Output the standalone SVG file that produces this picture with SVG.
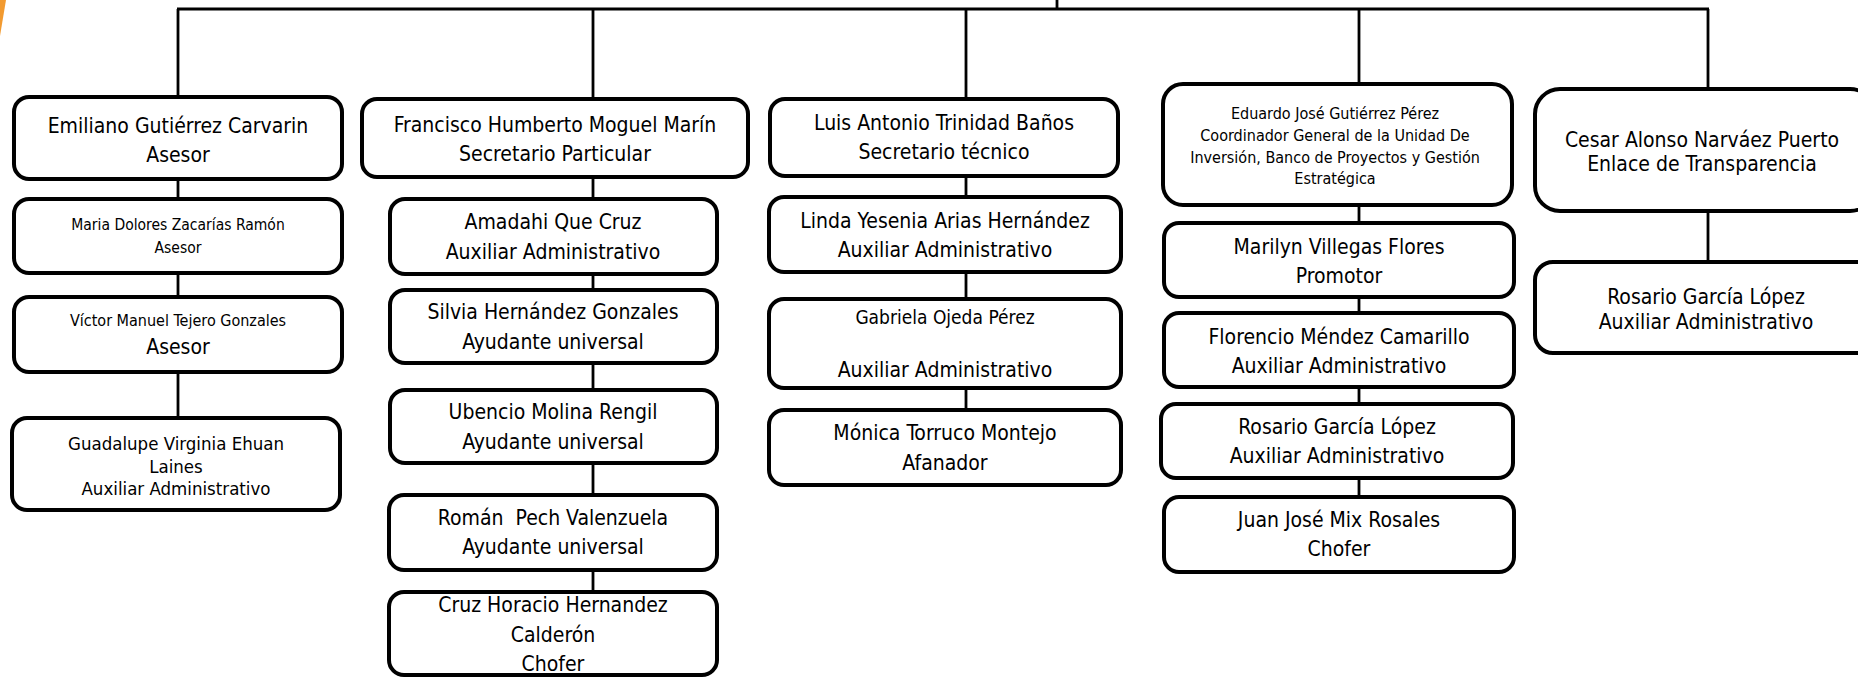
<svg xmlns="http://www.w3.org/2000/svg" width="1858" height="677" viewBox="0 0 1858 677">
<style>
.box{fill:#fff;stroke:#000;stroke-width:4}
.ln{stroke:#000;stroke-width:2.8;fill:none}
text{font-family:'DejaVu Sans Condensed','DejaVu Sans',sans-serif;font-stretch:condensed;fill:#000;text-anchor:middle}
.m{font-size:21px}
.g{font-size:18.5px}
.s{font-size:15.5px}
.v{font-size:16px}
.e{font-size:16px}
.gb{font-size:19px}
</style>
<rect width="1858" height="677" fill="#fff"/>
<polygon points="0,0 6,0 0,36" fill="#F29A30"/>
<g id="connectors">
<line class="ln" x1="1057" y1="0" x2="1057" y2="9"/>
<line class="ln" x1="177" y1="9" x2="1709" y2="9"/>
<line class="ln" x1="178" y1="9" x2="178" y2="97"/>
<line class="ln" x1="178" y1="179" x2="178" y2="199"/>
<line class="ln" x1="178" y1="273" x2="178" y2="297"/>
<line class="ln" x1="178" y1="372" x2="178" y2="418"/>
<line class="ln" x1="593" y1="9" x2="593" y2="99"/>
<line class="ln" x1="593" y1="177" x2="593" y2="199"/>
<line class="ln" x1="593" y1="274" x2="593" y2="290"/>
<line class="ln" x1="593" y1="363" x2="593" y2="390"/>
<line class="ln" x1="593" y1="463" x2="593" y2="495"/>
<line class="ln" x1="593" y1="570" x2="593" y2="592"/>
<line class="ln" x1="966" y1="9" x2="966" y2="99"/>
<line class="ln" x1="966" y1="176" x2="966" y2="197"/>
<line class="ln" x1="966" y1="272" x2="966" y2="299"/>
<line class="ln" x1="966" y1="388" x2="966" y2="410"/>
<line class="ln" x1="1359" y1="9" x2="1359" y2="84"/>
<line class="ln" x1="1359" y1="205" x2="1359" y2="223"/>
<line class="ln" x1="1359" y1="297" x2="1359" y2="313"/>
<line class="ln" x1="1359" y1="387" x2="1359" y2="404"/>
<line class="ln" x1="1359" y1="478" x2="1359" y2="497"/>
<line class="ln" x1="1708" y1="9" x2="1708" y2="89"/>
<line class="ln" x1="1708" y1="211" x2="1708" y2="262"/>
</g>
<g id="n-emiliano"><rect class="box" x="14" y="97" width="328" height="82" rx="15"/><text class="m" x="178" y="133">Emiliano Gutiérrez Carvarin</text><text class="m" x="178" y="162">Asesor</text></g>
<g id="n-maria"><rect class="box" x="14" y="199" width="328" height="74" rx="15"/><text class="s" x="178" y="230">Maria Dolores Zacarías Ramón</text><text class="s" x="178" y="253">Asesor</text></g>
<g id="n-victor"><rect class="box" x="14" y="297" width="328" height="75" rx="15"/><text class="v" x="178" y="326">Víctor Manuel Tejero Gonzales</text><text class="m" x="178" y="354">Asesor</text></g>
<g id="n-guadalupe"><rect class="box" x="12" y="418" width="328" height="92" rx="15"/><text class="g" x="176" y="450">Guadalupe Virginia Ehuan</text><text class="g" x="176" y="473">Laines</text><text class="g" x="176" y="495">Auxiliar Administrativo</text></g>
<g id="n-francisco"><rect class="box" x="362" y="99" width="386" height="78" rx="15"/><text class="m" x="555" y="132">Francisco Humberto Moguel Marín</text><text class="m" x="555" y="161">Secretario Particular</text></g>
<g id="n-amadahi"><rect class="box" x="390" y="199" width="327" height="75" rx="15"/><text class="m" x="553" y="229">Amadahi Que Cruz</text><text class="m" x="553" y="259">Auxiliar Administrativo</text></g>
<g id="n-silvia"><rect class="box" x="390" y="290" width="327" height="73" rx="15"/><text class="m" x="553" y="319">Silvia Hernández Gonzales</text><text class="m" x="553" y="349">Ayudante universal</text></g>
<g id="n-ubencio"><rect class="box" x="390" y="390" width="327" height="73" rx="15"/><text class="m" x="553" y="419">Ubencio Molina Rengil</text><text class="m" x="553" y="449">Ayudante universal</text></g>
<g id="n-roman"><rect class="box" x="389" y="495" width="328" height="75" rx="15"/><text class="m" x="553" y="525" xml:space="preserve">Román  Pech Valenzuela</text><text class="m" x="553" y="554">Ayudante universal</text></g>
<g id="n-cruz"><rect class="box" x="389" y="592" width="328" height="83" rx="15"/><text class="m" x="553" y="612">Cruz Horacio Hernandez</text><text class="m" x="553" y="642">Calderón</text><text class="m" x="553" y="671">Chofer</text></g>
<g id="n-luis"><rect class="box" x="770" y="99" width="348" height="77" rx="15"/><text class="m" x="944" y="130">Luis Antonio Trinidad Baños</text><text class="m" x="944" y="159">Secretario técnico</text></g>
<g id="n-linda"><rect class="box" x="769" y="197" width="352" height="75" rx="15"/><text class="m" x="945" y="228">Linda Yesenia Arias Hernández</text><text class="m" x="945" y="257">Auxiliar Administrativo</text></g>
<g id="n-gabriela"><rect class="box" x="769" y="299" width="352" height="89" rx="15"/><text class="gb" x="945" y="324">Gabriela Ojeda Pérez</text><text class="m" x="945" y="377">Auxiliar Administrativo</text></g>
<g id="n-monica"><rect class="box" x="769" y="410" width="352" height="75" rx="15"/><text class="m" x="945" y="440">Mónica Torruco Montejo</text><text class="m" x="945" y="470">Afanador</text></g>
<g id="n-eduardo"><rect class="box" x="1163" y="84" width="349" height="121" rx="20"/><text class="e" x="1335" y="119">Eduardo José Gutiérrez Pérez</text><text class="e" x="1335" y="141">Coordinador General de la Unidad De</text><text class="e" x="1335" y="163">Inversión, Banco de Proyectos y Gestión</text><text class="e" x="1335" y="184">Estratégica</text></g>
<g id="n-marilyn"><rect class="box" x="1164" y="223" width="350" height="74" rx="15"/><text class="m" x="1339" y="254">Marilyn Villegas Flores</text><text class="m" x="1339" y="283">Promotor</text></g>
<g id="n-florencio"><rect class="box" x="1164" y="313" width="350" height="74" rx="15"/><text class="m" x="1339" y="344">Florencio Méndez Camarillo</text><text class="m" x="1339" y="373">Auxiliar Administrativo</text></g>
<g id="n-rosario1"><rect class="box" x="1161" y="404" width="352" height="74" rx="15"/><text class="m" x="1337" y="434">Rosario García López</text><text class="m" x="1337" y="463">Auxiliar Administrativo</text></g>
<g id="n-juan"><rect class="box" x="1164" y="497" width="350" height="75" rx="15"/><text class="m" x="1339" y="527">Juan José Mix Rosales</text><text class="m" x="1339" y="556">Chofer</text></g>
<g id="n-cesar"><rect class="box" x="1535" y="89" width="340" height="122" rx="25"/><text class="m" x="1702" y="147">Cesar Alonso Narváez Puerto</text><text class="m" x="1702" y="171">Enlace de Transparencia</text></g>
<g id="n-rosario2"><rect class="box" x="1535" y="262" width="340" height="91" rx="18"/><text class="m" x="1706" y="304">Rosario García López</text><text class="m" x="1706" y="329">Auxiliar Administrativo</text></g>
</svg>
